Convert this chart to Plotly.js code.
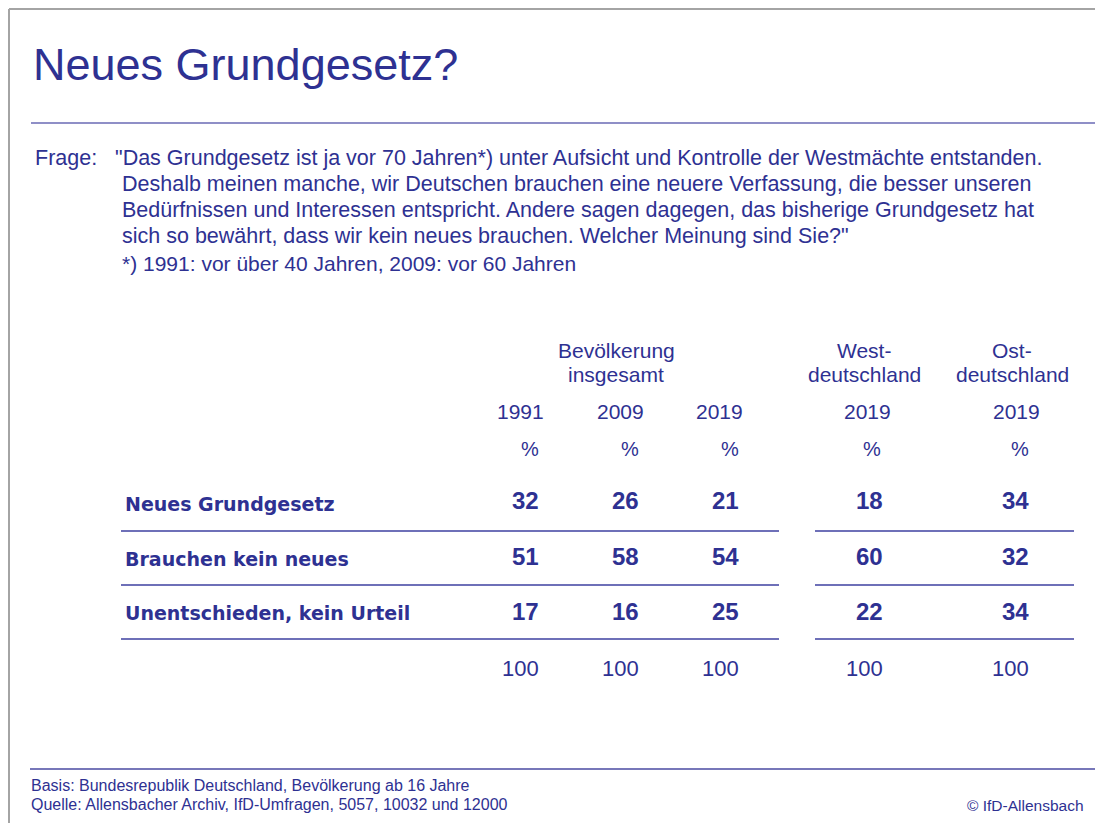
<!DOCTYPE html>
<html>
<head>
<meta charset="utf-8">
<script src="https://cdn.plot.ly/plotly-3.0.1.min.js"></script>
<style>html,body{margin:0;padding:0;background:#fff;}#chart{width:1095px;height:823px;}</style>
</head>
<body>
<div id="chart"></div>
<script>
// ---- data ----
const title = "Neues Grundgesetz?";
const questionLabel = "Frage:";
const questionLines = [
  "\"Das Grundgesetz ist ja vor 70 Jahren*) unter Aufsicht und Kontrolle der Westmächte entstanden.",
  "Deshalb meinen manche, wir Deutschen brauchen eine neuere Verfassung, die besser unseren",
  "Bedürfnissen und Interessen entspricht. Andere sagen dagegen, das bisherige Grundgesetz hat",
  "sich so bewährt, dass wir kein neues brauchen. Welcher Meinung sind Sie?\""
];
const footnote = "*) 1991: vor über 40 Jahren, 2009: vor 60 Jahren";
const groupHeaders = [["Bevölkerung", "insgesamt"], ["West-", "deutschland"], ["Ost-", "deutschland"]];
const years = ["1991", "2009", "2019", "2019", "2019"];
const rowLabels = ["Neues Grundgesetz", "Brauchen kein neues", "Unentschieden, kein Urteil"];
const v1991 = [32, 51, 17];
const v2009 = [26, 58, 16];
const v2019 = [21, 54, 25];
const vWest2019 = [18, 60, 22];
const vOst2019 = [34, 32, 34];
const totals = [100, 100, 100, 100, 100];
const basis = "Basis: Bundesrepublik Deutschland, Bevölkerung ab 16 Jahre";
const source = "Quelle: Allensbacher Archiv, IfD-Umfragen, 5057, 10032 und 12000";
const copyright = "© IfD-Allensbach";

// ---- layout positions (pixels) ----
const colRight = [541, 641, 741, 885, 1031];
const yearRight = [546, 646, 745, 893, 1042];
const pctRight = [541, 641, 741, 883, 1031];
const groupCenter = [616, 864, 1012];
const rowY = [500, 556, 611];
const labelY = [504, 559, 613];
const sepY = [531, 585, 639];
const qLineY = [158, 184, 210, 236];

const BLUE = "#2e3192";
const LINE = "#3e40a0";
const FONT = "Liberation Sans, Arial, sans-serif";

const columns = [v1991, v2009, v2019, vWest2019, vOst2019];
const ann = [];
function txt(x, y, text, size, anchor, opts) {
  ann.push(Object.assign({
    x: x, y: y, xref: "x", yref: "y", text: text, showarrow: false,
    xanchor: anchor, yanchor: "middle",
    font: {family: FONT, size: size, color: BLUE}
  }, opts || {}));
}

txt(31, 64, title, 45, "left");
txt(33, qLineY[0], questionLabel, 21.5, "left");
questionLines.forEach((l, i) => txt(i === 0 ? 113 : 120, qLineY[i], l, 21.5, "left"));
txt(120, 263, footnote, 21, "left");

groupHeaders.forEach((g, i) => {
  txt(groupCenter[i], 350, g[0], 21, "center");
  txt(groupCenter[i], 374, g[1], 21, "center");
});
years.forEach((y, i) => txt(yearRight[i], 411, y, 21, "right"));
years.forEach((y, i) => txt(pctRight[i], 449, "%", 20, "right"));

rowLabels.forEach((l, r) => txt(123, labelY[r], "<b>" + l + "</b>", 19, "left",
  {font: {family: "DejaVu Sans, sans-serif", size: 19, color: BLUE}}));

columns.forEach((col, c) => col.forEach((v, r) =>
  txt(colRight[c], rowY[r], "<b>" + v + "</b>", 24, "right")));
totals.forEach((t, c) => txt(colRight[c], 668, String(t), 22, "right"));

txt(29, 785, basis, 16, "left");
txt(29, 804, source, 16, "left");
txt(1086, 805, copyright, 15.5, "right");

const shapes = [];
function hline(x0, x1, y, color, w) {
  shapes.push({type: "line", xref: "x", yref: "y", x0: x0, x1: x1, y0: y, y1: y,
    line: {color: color, width: w}});
}
// frame
hline(9, 1095, 9, "#a4a4a4", 2);
shapes.push({type: "line", xref: "x", yref: "y", x0: 9, x1: 9, y0: 9, y1: 823,
  line: {color: "#a4a4a4", width: 2}});
hline(31, 1095, 123, "#6a6ab4", 1.5);
hline(30, 1095, 769, "#4a4aa2", 1.5);
sepY.forEach(y => { hline(121, 779, y, LINE, 1.5); hline(815, 1074, y, LINE, 1.5); });

const layout = {
  width: 1095, height: 823,
  margin: {l: 0, r: 0, t: 0, b: 0},
  paper_bgcolor: "#ffffff", plot_bgcolor: "#ffffff",
  xaxis: {range: [0, 1095], visible: false, fixedrange: true},
  yaxis: {range: [823, 0], visible: false, fixedrange: true},
  showlegend: false,
  annotations: ann,
  shapes: shapes
};
Plotly.newPlot("chart", [{x: [], y: [], type: "scatter", mode: "markers"}], layout,
  {staticPlot: true, displayModeBar: false});
</script>
</body>
</html>
